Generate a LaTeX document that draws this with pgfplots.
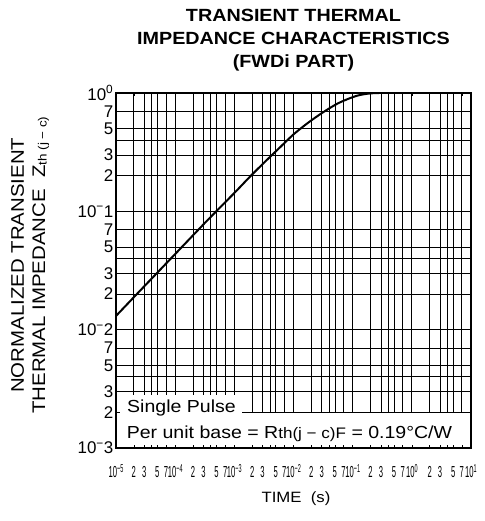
\documentclass[border=0pt]{standalone}
\usepackage{fontspec}
\setmainfont{Liberation Sans}[FakeStretch=1.12]
\newfontfamily\plainfont{Liberation Sans}
\newfontfamily\narrowfont{Liberation Sans}[FakeStretch=0.48]
\usepackage{pgfplots}
\pgfplotsset{compat=1.18}

% layer order: white label boxes go above the grid but below the ticks
\pgfplotsset{
  layers/boxlayers/.define layer set={
    axis background,axis grid,pre main,axis ticks,main,axis lines,
    axis tick labels,axis descriptions,axis foreground
  }{
    grid style={/pgfplots/on layer=axis grid},
    tick style={/pgfplots/on layer=axis ticks},
    axis line style={/pgfplots/on layer=axis lines},
    label style={/pgfplots/on layer=axis descriptions},
    legend style={/pgfplots/on layer=axis foreground},
    title style={/pgfplots/on layer=axis descriptions},
    colorbar style={/pgfplots/on layer=axis descriptions},
    ticklabel style={/pgfplots/on layer=axis tick labels},
  },
}

\newcommand{\ms}{\textsuperscript{−}}
% x tick labels: condensed, with a larger exponent than \textsuperscript gives
\newcommand{\xp}[1]{\raisebox{5bp}{\fontsize{11.5}{12}\selectfont #1}}

\begin{document}
\begin{tikzpicture}
\begin{axis}[
    set layers=boxlayers,
    at={(116bp,73bp)}, anchor=south west,
    width=355bp, height=355bp, scale only axis,
    xmode=log, ymode=log,
    xmin=1e-5, xmax=10,
    ymin=1e-3, ymax=1,
    axis line style={line width=2.3bp},
    tick align=inside,
    major tick length=3bp, minor tick length=3bp,
    tick style={black, line width=0.6bp},
    xtick={1e-5,2e-5,3e-5,5e-5,7e-5,1e-4,2e-4,3e-4,5e-4,7e-4,
           1e-3,2e-3,3e-3,5e-3,7e-3,1e-2,2e-2,3e-2,5e-2,7e-2,
           1e-1,2e-1,3e-1,5e-1,7e-1,1,2,3,5,7,10},
    xticklabels={10\xp{−5},2,3,5,7,10\xp{−4},2,3,5,7,10\xp{−3},2,3,5,7,
                 10\xp{−2},2,3,5,7,10\xp{−1},2,3,5,7,10\xp{0},2,3,5,7,
                 10\xp{1}},
    minor xtick={4e-5,4e-4,4e-3,4e-2,4e-1,4},
    ytick={1e-3,2e-3,3e-3,5e-3,7e-3,1e-2,2e-2,3e-2,5e-2,7e-2,
           1e-1,2e-1,3e-1,5e-1,7e-1,1},
    yticklabels={10\ms3,2,3,5,7,10\ms2,2,3,5,7,10\ms1,2,3,5,7,
                 10\textsuperscript{0}},
    minor ytick={4e-3,4e-2,4e-1},
    grid=both,
    major grid style={black, line width=0.7bp},
    minor grid style={black, line width=0.7bp},
    extra x ticks={1e-5,1e-4,1e-3,1e-2,1e-1,1,10},
    extra x tick labels={},
    extra y ticks={1e-3,1e-2,1e-1,1},
    extra y tick labels={},
    extra tick style={grid=major, major grid style={black, line width=1.3bp}},
    xticklabel style={font=\narrowfont\fontsize{16}{17}\selectfont,
                      anchor=base, yshift=-30bp, inner sep=0pt},
    yticklabel style={font=\plainfont\fontsize{17}{18}\selectfont, inner sep=2.5bp},
    title={TRANSIENT THERMAL\\IMPEDANCE CHARACTERISTICS\\(FWDi PART)},
    title style={at={(0.5,1)}, anchor=south, yshift=16bp, inner sep=0pt,
                 align=center, font=\bfseries\fontsize{17.7}{23}\selectfont},
    xlabel={TIME\ \ (s)},
    xlabel style={at={(axis description cs:0.507,-0.144)}, anchor=center,
                  font=\fontsize{15}{17}\selectfont},
    ylabel={NORMALIZED TRANSIENT\\THERMAL IMPEDANCE\ \ Z\raisebox{-1.5pt}{\fontsize{12}{12}\selectfont th (j − c)}},
    ylabel style={at={(axis description cs:-0.242,0.515)}, anchor=center,
                  align=center, font=\fontsize{18.3}{21.5}\selectfont},
]

\addplot[black, line width=2bp, smooth] coordinates {
    (1e-5,0.01306) (3.162e-5,0.02388) (1e-4,0.04355) (3.162e-4,0.0796)
    (1e-3,0.1429) (1.778e-3,0.193) (3.162e-3,0.257) (5.623e-3,0.339)
    (1e-2,0.4467) (1.778e-2,0.562) (3.162e-2,0.687) (5.623e-2,0.817)
    (1e-1,0.9226) (1.334e-1,0.962) (1.778e-1,0.986) (2.371e-1,0.998)
    (3.162e-1,1.0) (10,1.0)
};

\pgfplotsextra{%
  \begin{pgfonlayer}{pre main}
  \fill[white] (rel axis cs:0.011,0.095) rectangle (rel axis cs:0.355,0.149);
  \fill[white] (rel axis cs:0.011,0) rectangle (rel axis cs:0.977,0.098);
  \end{pgfonlayer}%
}

\node[anchor=base west, inner sep=0pt, font=\fontsize{17.5}{18}\selectfont]
    at (rel axis cs:0.031,0.101) {Single Pulse};
\node[anchor=base west, inner sep=0pt, font=\fontsize{17.5}{18}\selectfont]
    at (rel axis cs:0.030,0.028)
    {Per unit base = R{\fontsize{15.3}{15}\selectfont th(j − c)F} = 0.19°C/W};

\end{axis}
\pgfresetboundingbox
\path[use as bounding box] (0,0) rectangle (485bp,521bp);
\end{tikzpicture}
\end{document}
